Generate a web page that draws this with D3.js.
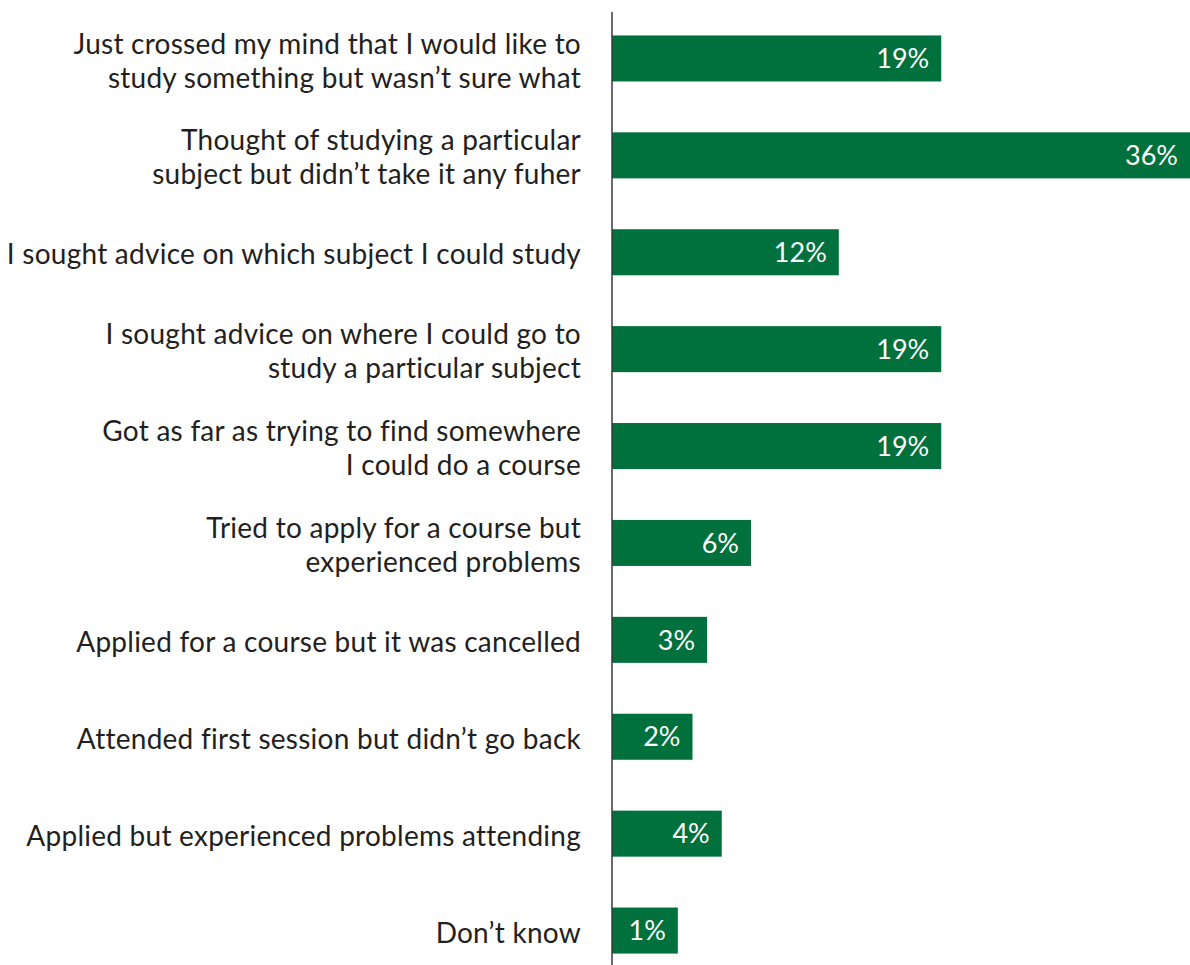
<!DOCTYPE html>
<html>
<head>
<meta charset="utf-8">
<script src="https://cdn.jsdelivr.net/npm/d3@7"></script>
<style>
  html, body { margin: 0; padding: 0; background: #ffffff; }
  svg { display: block; }
</style>
</head>
<body>
<svg id="chart" width="1190" height="965"></svg>
<script>
// Stages reached when thinking about taking up learning (share of respondents)
const categories = [
  ["Just crossed my mind that I would like to", "study something but wasn\u2019t sure what"],
  ["Thought of studying a particular", "subject but didn\u2019t take it any fuher"],
  ["I sought advice on which subject I could study"],
  ["I sought advice on where I could go to", "study a particular subject"],
  ["Got as far as trying to find somewhere", "I could do a course"],
  ["Tried to apply for a course but", "experienced problems"],
  ["Applied for a course but it was cancelled"],
  ["Attended first session but didn\u2019t go back"],
  ["Applied but experienced problems attending"],
  ["Don\u2019t know"]
];
const values = [19, 36, 12, 19, 19, 6, 3, 2, 4, 1];
const valueLabels = ["19%", "36%", "12%", "19%", "19%", "6%", "3%", "2%", "4%", "1%"];

const width = 1190, height = 965;
const axisX = 612;
const barColor = "#00703c";
const textColor = "#231f20";
const font = "Lato, 'Open Sans', sans-serif";

const svg = d3.select("#chart");

const keys = categories.map((c, i) => i);

const y = d3.scaleBand()
  .domain(keys)
  .range([10, 979])
  .paddingInner(0.525)
  .paddingOuter(0.2625);

// bars start from a small offset so even the smallest bar holds its label
const x = d3.scaleLinear()
  .domain([-3.5, 36])
  .range([axisX, width]);

const rows = svg.append("g")
  .selectAll("g")
  .data(keys)
  .join("g");

rows.append("rect")
  .attr("x", axisX)
  .attr("y", i => y(i))
  .attr("width", i => x(values[i]) - axisX)
  .attr("height", y.bandwidth())
  .attr("fill", barColor);

rows.append("text")
  .attr("x", i => x(values[i]) - 12)
  .attr("y", i => y(i) + y.bandwidth() / 2)
  .attr("dy", "0.36em")
  .attr("text-anchor", "end")
  .attr("fill", "#ffffff")
  .attr("font-family", font)
  .attr("font-size", 27)
  .text(i => valueLabels[i]);

// category labels, one or two lines centred on each bar
const lineGap = 34;
const labels = rows.append("text")
  .attr("text-anchor", "end")
  .attr("fill", textColor)
  .attr("font-family", font)
  .attr("font-size", 28)
  .attr("letter-spacing", 0.25);

labels.each(function(i) {
  const lines = categories[i];
  const cy = y(i) + y.bandwidth() / 2 + 2;
  const first = cy - (lines.length - 1) * lineGap / 2;
  d3.select(this).selectAll("tspan")
    .data(lines)
    .join("tspan")
    .attr("x", 581)
    .attr("y", (d, k) => first + k * lineGap)
    .attr("dy", "0.36em")
    .text(d => d);
});

// vertical axis line
svg.append("line")
  .attr("x1", axisX).attr("x2", axisX)
  .attr("y1", 12).attr("y2", height)
  .attr("stroke", "#3a3a3a")
  .attr("stroke-width", 1.5);
</script>
</body>
</html>
